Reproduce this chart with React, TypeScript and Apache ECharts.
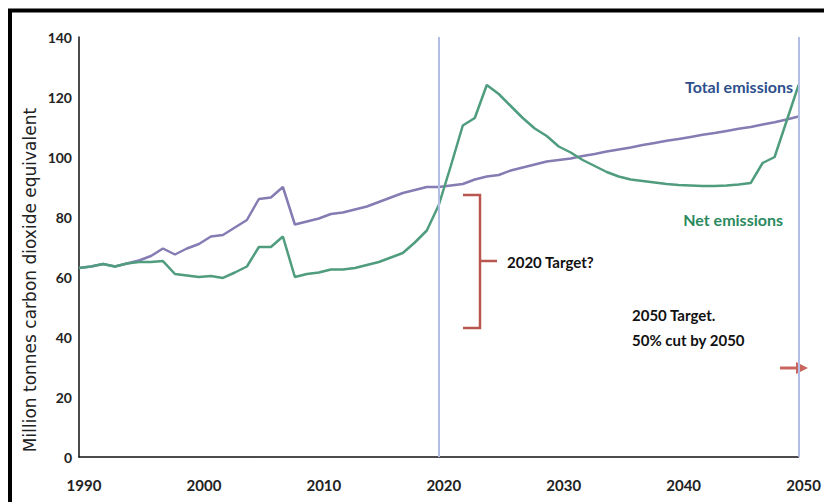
import React, { useEffect, useRef } from "react";
import * as echarts from "echarts";

const years: number[] = [];
for (let y = 1990; y <= 2050; y++) years.push(y);

const totalEmissions = [
  63, 63.5, 64.3, 63.5, 64.5, 65.5, 67, 69.5, 67.5, 69.5,
  71, 73.5, 74, 76.5, 79, 86, 86.5, 90, 77.5, 78.5,
  79.5, 81, 81.5, 82.5, 83.5, 85, 86.5, 88, 89, 90,
  90, 90.5, 91, 92.5, 93.5, 94, 95.5, 96.5, 97.5, 98.5,
  99, 99.5, 100.3, 101, 101.8, 102.5, 103.2, 104, 104.7, 105.4,
  106, 106.7, 107.4, 108, 108.7, 109.4, 110, 110.8, 111.6, 112.5,
  113.5,
];

const netEmissions = [
  63, 63.5, 64.3, 63.5, 64.5, 65, 65, 65.3, 61, 60.5,
  60, 60.3, 59.7, 61.5, 63.5, 70, 70, 73.5, 60, 61,
  61.5, 62.5, 62.5, 63, 64, 65, 66.5, 68, 71.5, 75.5,
  84, 97, 110.5, 113, 124, 121, 117, 113, 109.5, 107,
  103.5, 101.5, 99, 97, 95, 93.5, 92.5, 92, 91.5, 91,
  90.7, 90.5, 90.3, 90.3, 90.5, 90.8, 91.3, 98, 100, 112,
  124,
];

const xTicks = { min: 1990, max: 2050, interval: 10 };
const yTicks = { min: 0, max: 140, interval: 20 };
const targetYears = [2020, 2050];

export default function App() {
  const ref = useRef<HTMLDivElement>(null);
  useEffect(() => {
    if (!ref.current) return;
    const chart = echarts.init(ref.current, null, { renderer: "svg" });
    const font = "Lato, 'Open Sans', sans-serif";
    const option: any = {
      animation: false,
      backgroundColor: "#ffffff",
      grid: { left: 79, right: 17, top: 37, bottom: 45, containLabel: false },
      xAxis: {
        type: "value",
        min: xTicks.min,
        max: xTicks.max,
        interval: xTicks.interval,
        splitLine: { show: false },
        axisTick: { show: false },
        axisLine: { show: true, lineStyle: { color: "#111", width: 1.5 } },
        axisLabel: {
          margin: 20,
          color: "#222",
          fontFamily: font,
          fontWeight: "bold",
          fontSize: 15,
          padding: [0, 0, 0, 10],
          formatter: (v: number) => String(v),
        },
      },
      yAxis: {
        type: "value",
        min: yTicks.min,
        max: yTicks.max,
        interval: yTicks.interval,
        splitLine: { show: false },
        axisTick: { show: false },
        axisLine: { show: true, lineStyle: { color: "#111", width: 1.5 } },
        axisLabel: {
          margin: 7,
          color: "#222",
          fontFamily: font,
          fontWeight: "bold",
          fontSize: 14,
        },
      },
      series: [
        {
          name: "Total emissions",
          type: "line",
          showSymbol: false,
          data: years.map((y, i) => [y, totalEmissions[i]]),
          lineStyle: { color: "#857cb3", width: 2.5 },
          z: 3,
          markLine: {
            silent: true,
            symbol: "none",
            label: { show: false },
            lineStyle: { color: "#b2bee3", width: 2, type: "solid" },
            data: targetYears.map((t) => ({ xAxis: t })),
          },
        },
        {
          name: "Net emissions",
          type: "line",
          showSymbol: false,
          data: years.map((y, i) => [y, netEmissions[i]]),
          lineStyle: { color: "#4f9c7e", width: 2.5 },
          z: 4,
        },
      ],
      graphic: [
        {
          type: "rect",
          shape: { x: 10, y: 10.5, width: 900, height: 600 },
          style: { fill: "none", stroke: "#000", lineWidth: 4 },
          silent: true,
        },
        {
          type: "text",
          x: 30,
          y: 280,
          rotation: Math.PI / 2,
          style: {
            text: "Million tonnes carbon dioxide equivalent",
            fontFamily: "'DejaVu Sans', sans-serif",
            fontSize: 17,
            fill: "#222",
            textAlign: "center",
            textVerticalAlign: "middle",
          },
        },
        {
          type: "text",
          x: 793,
          y: 86,
          style: {
            text: "Total emissions",
            fontFamily: font,
            fontWeight: "bold",
            fontSize: 16,
            fill: "#2d4f8c",
            textAlign: "right",
            textVerticalAlign: "middle",
          },
        },
        {
          type: "text",
          x: 783,
          y: 219,
          style: {
            text: "Net emissions",
            fontFamily: font,
            fontWeight: "bold",
            fontSize: 16,
            fill: "#2b8a5e",
            textAlign: "right",
            textVerticalAlign: "middle",
          },
        },
        {
          type: "polyline",
          shape: { points: [[463, 195], [480, 195], [480, 328], [463, 328]] },
          style: { stroke: "#b9574f", lineWidth: 2.5, fill: "none" },
        },
        {
          type: "line",
          shape: { x1: 480, y1: 261, x2: 497, y2: 261 },
          style: { stroke: "#b9574f", lineWidth: 2.5 },
        },
        {
          type: "text",
          x: 507,
          y: 262,
          style: {
            text: "2020 Target?",
            fontFamily: font,
            fontWeight: "bold",
            fontSize: 15,
            fill: "#111",
            textAlign: "left",
            textVerticalAlign: "middle",
          },
        },
        {
          type: "text",
          x: 632,
          y: 315,
          style: {
            text: "2050 Target.",
            fontFamily: font,
            fontWeight: "bold",
            fontSize: 15,
            fill: "#111",
            textAlign: "left",
            textVerticalAlign: "middle",
          },
        },
        {
          type: "text",
          x: 632,
          y: 340,
          style: {
            text: "50% cut by 2050",
            fontFamily: font,
            fontWeight: "bold",
            fontSize: 15,
            fill: "#111",
            textAlign: "left",
            textVerticalAlign: "middle",
          },
        },
        {
          type: "line",
          shape: { x1: 780, y1: 368, x2: 800, y2: 368 },
          style: { stroke: "#c8665e", lineWidth: 3 },
        },
        {
          type: "polygon",
          shape: { points: [[796, 362], [808, 368], [796, 374]] },
          style: { fill: "#c8665e" },
        },
      ],
    };
    chart.setOption(option);
    return () => chart.dispose();
  }, []);
  return (
    <div
      ref={ref}
      style={{ position: "absolute", left: 0, top: 0, width: 824, height: 502 }}
    />
  );
}
